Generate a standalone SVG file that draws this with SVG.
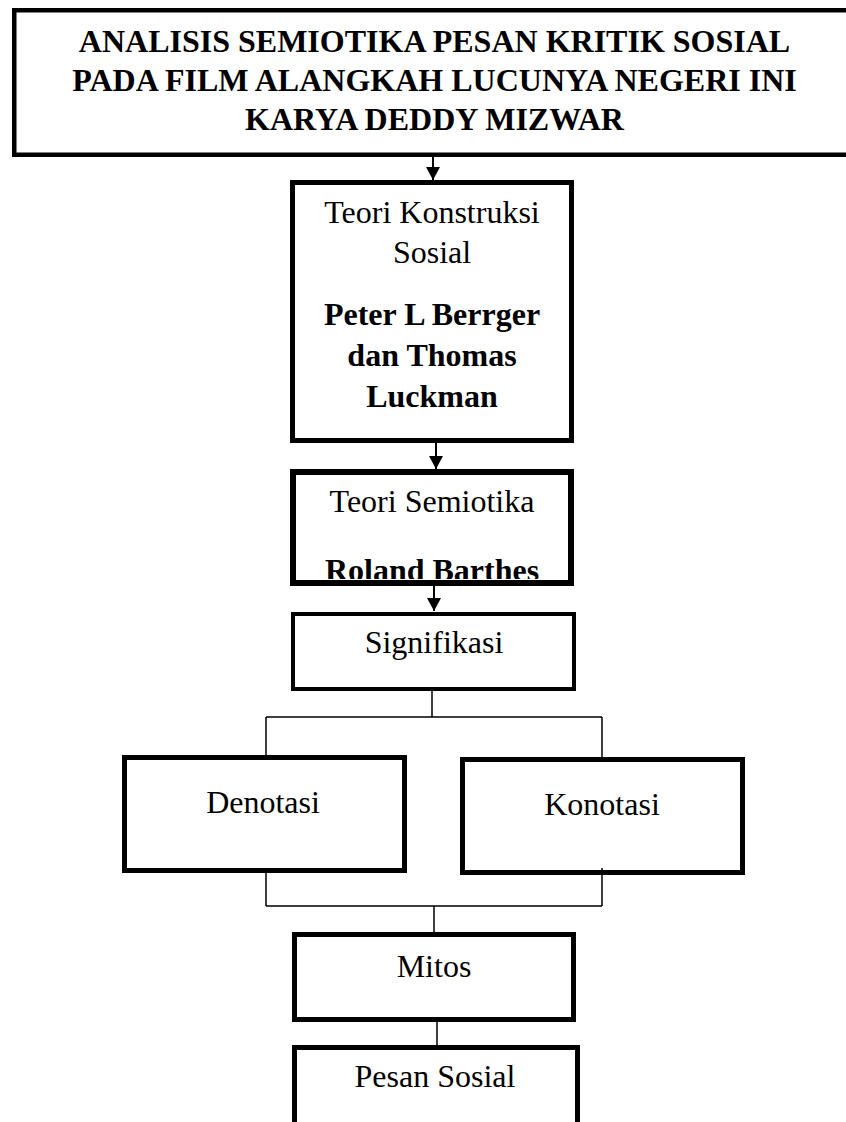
<svg xmlns="http://www.w3.org/2000/svg" width="846" height="1122" viewBox="0 0 846 1122">
<style>
.box{fill:#fff;stroke:#000}
.t{font-family:"Liberation Serif","Times New Roman",serif;font-size:32px;fill:#000;text-anchor:middle}
.b{font-weight:bold}
.c{fill:none;stroke:#000;stroke-width:1.5}
.a{fill:none;stroke:#000;stroke-width:2}
</style>
<defs>
<marker id="arr" markerWidth="13" markerHeight="14" refX="13" refY="7" orient="auto" markerUnits="userSpaceOnUse">
<path d="M0,0 L13,7 L0,14 Z" fill="#000"/>
</marker>
<clipPath id="clip3"><rect x="290" y="469" width="284" height="110"/></clipPath>
</defs>
<rect width="846" height="1122" fill="#fff"/>
<g id="title">
<rect class="box" x="14.25" y="10.25" width="840" height="144.5" stroke-width="4.5"/>
<text class="t b" x="434.5" y="52">ANALISIS SEMIOTIKA PESAN KRITIK SOSIAL</text>
<text class="t b" x="434.5" y="91">PADA FILM ALANGKAH LUCUNYA NEGERI INI</text>
<text class="t b" x="434.5" y="130">KARYA DEDDY MIZWAR</text>
</g>
<g id="konstruksi">
<rect class="box" x="292.5" y="182.5" width="279" height="258" stroke-width="5"/>
<text class="t" x="432" y="223">Teori Konstruksi</text>
<text class="t" x="432" y="263">Sosial</text>
<text class="t b" x="432" y="325">Peter L Berrger</text>
<text class="t b" x="432" y="366">dan Thomas</text>
<text class="t b" x="432" y="407">Luckman</text>
</g>
<g id="semiotika">
<rect class="box" x="293" y="472" width="278" height="111" stroke-width="6"/>
<text class="t" x="432" y="512">Teori Semiotika</text>
<text class="t b" x="432" y="581" clip-path="url(#clip3)">Roland Barthes</text>
</g>
<g id="signifikasi">
<rect class="box" x="293" y="614" width="281" height="75" stroke-width="4"/>
<text class="t" x="434" y="653">Signifikasi</text>
</g>
<g id="denotasi">
<rect class="box" x="124.5" y="757.5" width="280" height="113" stroke-width="5"/>
<text class="t" x="263" y="813">Denotasi</text>
</g>
<g id="konotasi">
<rect class="box" x="462.5" y="759.5" width="280" height="113" stroke-width="5"/>
<text class="t" x="602" y="815">Konotasi</text>
</g>
<g id="mitos">
<rect class="box" x="294.5" y="934.5" width="279" height="85" stroke-width="5"/>
<text class="t" x="434" y="977">Mitos</text>
</g>
<g id="pesan">
<rect class="box" x="294.5" y="1047.5" width="283" height="100" stroke-width="5"/>
<text class="t" x="435" y="1087">Pesan Sosial</text>
</g>
<g id="connectors">
<line class="a" x1="433" y1="157" x2="433" y2="180" marker-end="url(#arr)"/>
<line class="a" x1="436" y1="443" x2="436" y2="469" marker-end="url(#arr)"/>
<line class="a" x1="434" y1="586" x2="434" y2="611" marker-end="url(#arr)"/>
<path class="c" d="M432,691 V717 M266,717 H602 M266,717 V755 M602,717 V757"/>
<path class="c" d="M266,873 V906 M602,868 V906 M266,906 H602 M434,906 V932"/>
<path class="c" d="M437,1022 V1045"/>
</g>
</svg>
